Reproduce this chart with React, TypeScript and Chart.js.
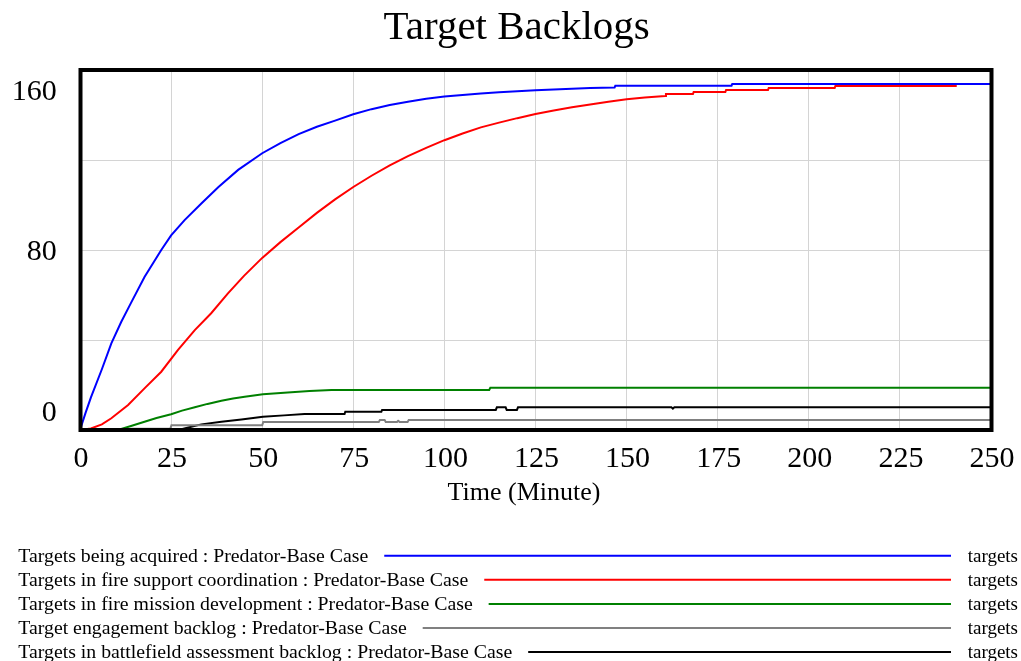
import React, { useEffect, useRef } from "react";
import { Chart, registerables } from "chart.js";

Chart.register(...registerables);

const TITLE = "Target Backlogs";
const X_TITLE = "Time (Minute)";
const UNIT_LABEL = "targets";
const X_TICKS = [0, 25, 50, 75, 100, 125, 150, 175, 200, 225, 250];
const Y_TICKS = [0, 80, 160];

const SERIES_LABELS = [
  "Targets being acquired : Predator-Base Case",
  "Targets in fire support coordination : Predator-Base Case",
  "Targets in fire mission development : Predator-Base Case",
  "Target engagement backlog : Predator-Base Case",
  "Targets in battlefield assessment backlog : Predator-Base Case",
];
const SERIES_COLORS = ["#0000ff", "#ff0000", "#008000", "#808080", "#000000"];

const acquiredTime = [0, 1.5, 3, 6, 8.6, 11.3, 14, 17.7, 22.3, 25, 28.7, 33.3, 38, 43.4, 50, 55, 60, 65, 70, 75, 80, 85, 90, 95, 100, 105, 110, 115, 120, 125, 130, 135, 140, 146.7, 146.9, 178.8, 179, 250];
const acquiredValues = [0, 7.5, 14.5, 27, 38.5, 48, 56.5, 68, 80, 86.5, 93.3, 100.7, 108, 115.6, 123, 127.5, 131.5, 134.8, 137.5, 140.3, 142.6, 144.4, 145.9, 147.2, 148.2, 148.9, 149.6, 150.1, 150.6, 151.0, 151.3, 151.7, 152.0, 152.2, 153.0, 153.0, 153.8, 153.8];

const coordinationTime = [0, 3, 6, 8.6, 13.2, 17.7, 22.3, 26.9, 31.5, 36, 40.6, 45, 50, 55, 60, 65, 70, 75, 80, 85, 90, 95, 100, 105, 110, 115, 120, 125, 130, 135, 140, 145, 150, 155, 160.6, 160.8, 168.2, 168.4, 177.1, 177.3, 188.8, 189, 207.1, 207.3, 240.6];
const coordinationValues = [0, 0.7, 2.5, 5.2, 11.1, 18.5, 25.9, 35.6, 44.4, 51.9, 60.7, 68.5, 76.5, 83.5, 90, 96.5, 102.5, 108, 113, 117.6, 121.7, 125.4, 128.8, 131.8, 134.5, 136.6, 138.6, 140.4, 142, 143.4, 144.7, 145.9, 147, 147.8, 148.4, 149.3, 149.3, 150.2, 150.2, 151.1, 151.1, 152.0, 152.0, 152.9, 152.9];

const missionTime = [0, 10.4, 14, 17.7, 21, 25, 28, 31.5, 35, 38.8, 42, 45.2, 50.2, 57, 63, 69, 112.3, 112.6, 250];
const missionValues = [0, 0, 1.8, 3.7, 5.3, 7.0, 8.6, 10.1, 11.6, 13.0, 14.0, 14.8, 15.9, 16.7, 17.3, 17.8, 17.8, 18.8, 18.8];

const engagementTime = [0, 12, 14, 24.8, 25.1, 50.0, 50.3, 82.0, 82.3, 83.6, 83.9, 87.0, 87.3, 87.7, 89.9, 90.2, 250];
const engagementValues = [0, 0, 0.6, 0.6, 2.1, 2.1, 3.6, 3.6, 4.4, 4.4, 3.6, 3.6, 4.1, 3.6, 3.6, 4.4, 4.4];

const assessmentTime = [0, 27, 30, 33.3, 38.8, 44.3, 50.2, 56, 61.6, 72.6, 72.8, 82.7, 82.9, 114.1, 114.4, 116.8, 117.1, 119.9, 120.2, 162.3, 162.7, 163.1, 250];
const assessmentValues = [0, 0, 1.2, 2.5, 3.7, 4.7, 5.9, 6.5, 7.1, 7.1, 8.1, 8.1, 8.9, 8.9, 10.1, 10.1, 8.9, 8.9, 10.1, 10.1, 9.5, 10.1, 10.1];

const SERIES_TIMES = [acquiredTime, coordinationTime, missionTime, engagementTime, assessmentTime];
const SERIES_VALUES = [acquiredValues, coordinationValues, missionValues, engagementValues, assessmentValues];

const FONT = '"Liberation Serif", "Times New Roman", serif';

const overlayPlugin = {
  id: "vensimOverlay",
  afterDraw(chart: any) {
    const { ctx, chartArea: a, scales } = chart;
    ctx.save();
    // frame
    ctx.strokeStyle = "#000";
    ctx.lineWidth = 4;
    ctx.strokeRect(a.left + 0.5, a.top, a.right - a.left, a.bottom - a.top);

    ctx.fillStyle = "#000";
    // title
    ctx.font = `41px ${FONT}`;
    ctx.textAlign = "center";
    ctx.textBaseline = "alphabetic";
    ctx.fillText(TITLE, 516.7, 39);

    // y tick labels (Vensim style: end labels pulled inside)
    ctx.font = `30px ${FONT}`;
    ctx.textAlign = "right";
    Y_TICKS.forEach((v) => {
      const p = scales.y.getPixelForValue(v);
      let base = p + 9.5;
      base = Math.max(base, a.top + 30);
      base = Math.min(base, a.bottom - 9.3);
      ctx.fillText(String(v), a.left - 23.3, base);
    });

    // x tick labels
    ctx.textAlign = "center";
    X_TICKS.forEach((t) => {
      const p = scales.x.getPixelForValue(t);
      ctx.fillText(String(t), p + 1, a.bottom + 36.7);
    });

    // x title
    ctx.font = `26px ${FONT}`;
    ctx.fillText(X_TITLE, 524, a.bottom + 70);

    // legend
    SERIES_LABELS.forEach((label, i) => {
      const base = 561.7 + i * 24.1;
      ctx.font = `19.8px ${FONT}`;
      ctx.textAlign = "left";
      ctx.fillStyle = "#000";
      ctx.fillText(label, 18.3, base);
      const w = ctx.measureText(label).width;
      ctx.strokeStyle = SERIES_COLORS[i];
      ctx.lineWidth = 2;
      ctx.beginPath();
      ctx.moveTo(18.3 + w + 16, base - 6);
      ctx.lineTo(951, base - 6);
      ctx.stroke();
      ctx.font = `19px ${FONT}`;
      ctx.textAlign = "right";
      ctx.fillText(UNIT_LABEL, 1018, base);
    });
    ctx.restore();
  },
};

export default function App() {
  const ref = useRef<HTMLCanvasElement | null>(null);
  useEffect(() => {
    if (!ref.current) return;
    const datasets = SERIES_LABELS.map((label, i) => ({
      label,
      data: SERIES_TIMES[i].map((t, j) => ({ x: t, y: SERIES_VALUES[i][j] })),
      borderColor: SERIES_COLORS[i],
      backgroundColor: SERIES_COLORS[i],
      borderWidth: 2,
      pointRadius: 0,
      tension: 0,
      fill: false,
    }));
    const chart = new Chart(ref.current, {
      type: "line",
      data: { datasets },
      options: {
        animation: false,
        responsive: false,
        devicePixelRatio: 1,
        layout: { padding: { left: 0, top: 70, right: 30, bottom: 0 } },
        plugins: { legend: { display: false }, title: { display: false }, tooltip: { enabled: false } },
        scales: {
          x: {
            type: "linear",
            min: 0,
            max: 250,
            ticks: { display: false, stepSize: 25 },
            grid: { color: "#d4d4d4", lineWidth: 1, drawTicks: false },
            border: { display: false },
            afterFit: (s: any) => { s.height = 231; },
          },
          y: {
            type: "linear",
            min: 0,
            max: 160,
            ticks: { display: false, stepSize: 40 },
            grid: { color: "#d4d4d4", lineWidth: 1, drawTicks: false },
            border: { display: false },
            afterFit: (s: any) => { s.width = 80; },
          },
        },
      },
      plugins: [overlayPlugin],
    });
    return () => chart.destroy();
  }, []);
  return (
    <div style={{ position: "absolute", left: 0, top: 0, width: 1021, height: 661, background: "#fff" }}>
      <canvas ref={ref} width={1021} height={661} />
    </div>
  );
}
